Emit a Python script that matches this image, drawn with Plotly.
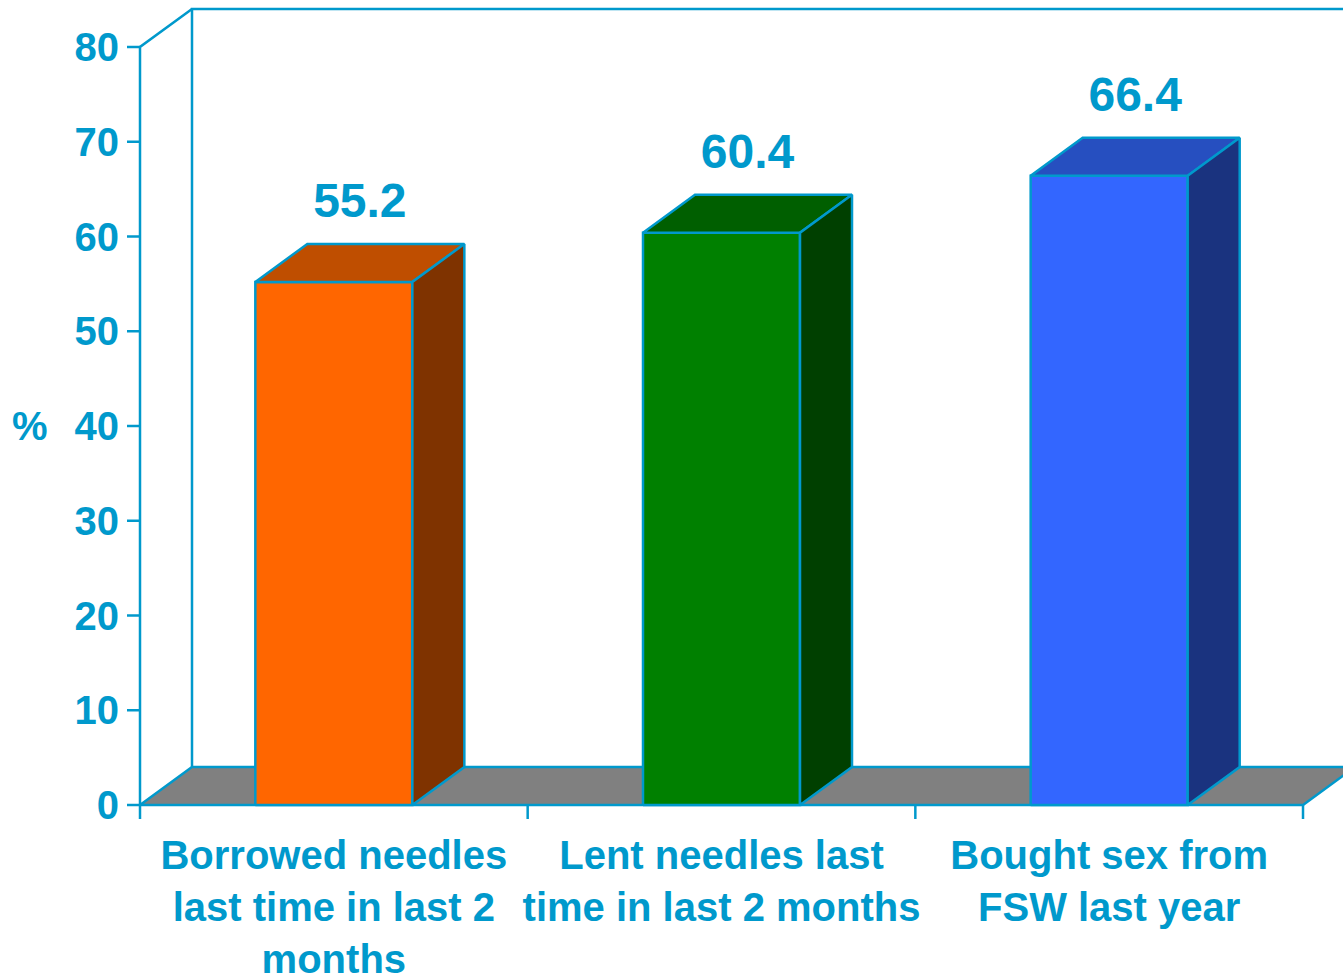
import plotly.graph_objects as go

# ---- data ----
categories = ["Borrowed needles<br>last time in last 2<br>months",
              "Lent needles last<br>time in last 2 months",
              "Bought sex from<br>FSW last year"]
values = [55.2, 60.4, 66.4]
value_labels = ["55.2", "60.4", "66.4"]
y_ticks = [0, 10, 20, 30, 40, 50, 60, 70, 80]
y_tick_labels = ["0", "10", "20", "30", "40", "50", "60", "70", "80"]

front_colors = ["#FF6600", "#008000", "#3366FF"]
top_colors = ["#BF4E00", "#005F00", "#264FC0"]
side_colors = ["#7F3300", "#004000", "#1A337F"]

# ---- style / geometry constants ----
TXT = "#0099CC"
LINE = "#0099CC"
FONT = "Liberation Sans, Arial, sans-serif"
W, H = 1343, 975
PX = 387.67          # pixels per category
PY = 758 / 80        # pixels per percent
DX = 52 / PX         # depth offset x (category units)
DY = 38 / PY         # depth offset y (percent units)
HW = 0.2025          # bar half width
YMAX = 80
LW = 2.5
LABEL_GAP = 4.1      # value label offset above bar top (percent units)

x0 = -0.5
xn = len(categories) - 0.5
ml, mb = 120, 150
x_range = [x0 - (140 - ml) / PX, x0 + (W - 140) / PX]
y_range = [-(H - mb - 805) / PY, 805 / PY]

fig = go.Figure()


def poly(xs, ys, fill, width=LW):
    fig.add_trace(go.Scatter(
        x=xs + [xs[0]], y=ys + [ys[0]], mode="lines",
        fill="toself", fillcolor=fill,
        line=dict(color=LINE, width=width),
        hoverinfo="skip", showlegend=False))


def line(xs, ys, width=LW):
    fig.add_trace(go.Scatter(
        x=xs, y=ys, mode="lines", line=dict(color=LINE, width=width),
        hoverinfo="skip", showlegend=False))


# back wall
line([x0 + DX, x0 + DX, xn + DX + 1], [DY, YMAX + DY, YMAX + DY])
# floor
poly([x0, xn, xn + DX, x0 + DX], [0, 0, DY, DY], "#808080")

# bars
for i, v in enumerate(values):
    c = i
    poly([c - HW, c + HW, c + HW, c - HW], [0, 0, v, v], front_colors[i])
    poly([c - HW, c + HW, c + HW + DX, c - HW + DX], [v, v, v + DY, v + DY], top_colors[i])
    poly([c + HW, c + HW + DX, c + HW + DX, c + HW], [0, DY, v + DY, v], side_colors[i])

# front axis line
line([x0, x0, x0 + DX], [0, YMAX, YMAX + DY])

# y tick marks
tl_x = 13 / PX
yt_x, yt_y = [], []
for t in y_ticks:
    yt_x += [x0 - tl_x, x0, None]
    yt_y += [t, t, None]
line(yt_x, yt_y)

# x tick marks at category boundaries
tl_y = 14 / PY
xt_x, xt_y = [], []
for k in range(len(categories) + 1):
    b = x0 + k
    xt_x += [b, b, None]
    xt_y += [0, -tl_y, None]
line(xt_x, xt_y)

# value labels
fig.add_trace(go.Scatter(
    x=[i + DX / 2 for i in range(len(values))],
    y=[v + DY + LABEL_GAP for v in values],
    mode="text", text=value_labels, textposition="middle center",
    textfont=dict(family=FONT, size=48, color=TXT, weight="bold"),
    hoverinfo="skip", showlegend=False, cliponaxis=False))

plot_w = W - ml
fig.add_annotation(x=(30 - ml) / plot_w, y=40, xref="paper", yref="y", text="%",
                   showarrow=False, xanchor="center", yanchor="middle",
                   font=dict(family=FONT, size=40, color=TXT, weight="bold"))

fig.update_layout(
    width=W, height=H, autosize=False,
    margin=dict(l=ml, r=0, t=0, b=mb, autoexpand=False),
    paper_bgcolor="white", plot_bgcolor="white",
    xaxis=dict(range=x_range, showgrid=False, zeroline=False, showline=False,
               tickmode="array", tickvals=list(range(len(categories))),
               ticktext=categories, ticks="", automargin=False,
               ticklabelstandoff=3,
               tickfont=dict(family=FONT, size=40, color=TXT, weight="bold")),
    yaxis=dict(range=y_range, showgrid=False, zeroline=False, showline=False,
               tickmode="array", tickvals=y_ticks, ticktext=y_tick_labels, ticks="",
               automargin=False,
               tickfont=dict(family=FONT, size=40, color=TXT, weight="bold")),
)

fig.write_html("out.html", config={"displayModeBar": False},
               post_script="document.body.style.margin='0';document.body.style.overflow='hidden';")
